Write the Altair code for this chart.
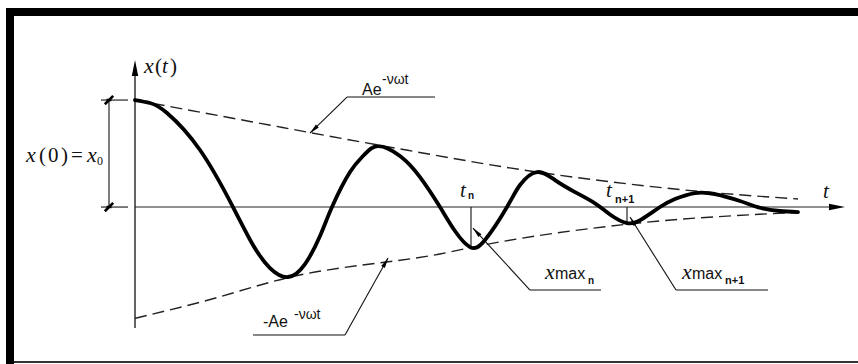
import altair as alt
import pandas as pd

# Damped free vibration x(t), normalised so that x(0) = x0 = 1
t_curve = [0.00, 0.15, 0.32, 0.65, 0.98, 1.18, 1.35, 1.53, 1.70, 1.85, 1.97, 2.15, 2.29,
           2.43, 2.65, 2.85, 3.05, 3.20, 3.35, 3.50, 3.72, 3.85, 4.02, 4.20, 4.40, 4.60,
           4.75, 4.92, 5.07, 5.25, 5.40, 5.60, 5.80, 6.05, 6.26, 6.45, 6.63]
x_curve = [1.000, 0.972, 0.879, 0.533, 0.000, -0.355, -0.570, -0.654, -0.533, -0.271, 0.000,
           0.327, 0.486, 0.570, 0.477, 0.280, 0.000, -0.224, -0.374, -0.308, 0.000, 0.206,
           0.327, 0.252, 0.140, 0.035, -0.070, -0.150, -0.112, 0.000, 0.075, 0.131, 0.121,
           0.056, -0.009, -0.037, -0.047]

# Envelopes  +A e^(-nu w t)  and  -A e^(-nu w t)
t_env_up = [0.00, 1.15, 2.43, 4.00, 5.60, 6.63]
x_env_up = [1.00, 0.80, 0.58, 0.33, 0.15, 0.075]
t_env_lo = [0.00, 0.65, 1.53, 3.15, 3.35, 4.93, 6.63]
x_env_lo = [-1.04, -0.89, -0.66, -0.42, -0.38, -0.16, -0.05]

# Coordinate window of the drawing
T_DOMAIN = [-1.35, 7.23]
X_DOMAIN = [-1.467, 1.935]
xs = alt.Scale(domain=T_DOMAIN, nice=False, zero=False)
ys = alt.Scale(domain=X_DOMAIN, nice=False, zero=False)

SERIF = "Liberation Serif"
SANS = "Liberation Sans"


def enc(chart, t="t", x="x"):
    return chart.encode(
        x=alt.X(f"{t}:Q", scale=xs, axis=None),
        y=alt.Y(f"{x}:Q", scale=ys, axis=None),
    )


curve = enc(alt.Chart(pd.DataFrame({"t": t_curve, "x": x_curve})).mark_line(
    color="black", strokeWidth=3.8, interpolate="natural", strokeCap="round", strokeJoin="round"))

env_df = pd.concat([
    pd.DataFrame({"t": t_env_up, "x": x_env_up, "s": "up"}),
    pd.DataFrame({"t": t_env_lo, "x": x_env_lo, "s": "lo"}),
])
envelopes = enc(alt.Chart(env_df).mark_line(
    color="#222", strokeWidth=1.4, strokeDash=[12, 6], interpolate="monotone")).encode(
    detail="s:N")

# Line segments: dimension lines and leaders
seg_thin = pd.DataFrame([
    (2.12, 1.028, 3.00, 1.028), (2.12, 1.028, 1.75, 0.69),
    (1.18, -1.196, 2.10, -1.196), (2.10, -1.196, 2.53, -0.477),
    (3.38, -0.196, 3.95, -0.776), (3.95, -0.776, 4.66, -0.776),
    (4.95, -0.093, 5.41, -0.776), (5.41, -0.776, 6.33, -0.776),
    (3.36, 0.0, 3.36, -0.374), (4.92, 0.0, 4.92, -0.15),
    (-0.26, 1.0, -0.26, 0.0),
    (-0.34, 1.0, -0.07, 1.0), (-0.34, 0.0, -0.07, 0.0),
], columns=["t1", "x1", "t2", "x2"])
thin = alt.Chart(seg_thin).mark_rule(color="#111", strokeWidth=1.1).encode(
    x=alt.X("t1:Q", scale=xs, axis=None), y=alt.Y("x1:Q", scale=ys, axis=None),
    x2="t2:Q", y2="x2:Q")

# Coordinate axes
seg_axes = pd.DataFrame([
    (0.0, -1.13, 0.0, 1.32, 1.4),
    (0.0, 0.0, 6.95, 0.0, 1.1),
], columns=["t1", "x1", "t2", "x2", "w"])
axes = alt.Chart(seg_axes).mark_rule(color="#222").encode(
    x=alt.X("t1:Q", scale=xs, axis=None), y=alt.Y("x1:Q", scale=ys, axis=None),
    x2="t2:Q", y2="x2:Q", strokeWidth=alt.StrokeWidth("w:Q", scale=None))

# Arrowheads
heads = pd.DataFrame([
    (0.0, 1.299, 0.0, 256),
    (7.02, 0.0, 90.0, 256),
    (1.786, 0.724, 225.8, 110),
    (2.506, -0.518, 29.2, 110),
    (3.414, -0.231, 317.4, 110),
    (4.977, -0.133, 327.8, 80),
], columns=["t", "x", "a", "s"])
arrowheads = enc(alt.Chart(heads).mark_point(
    shape="M0,-1L0.4,1L-0.4,1Z", filled=True, color="black", opacity=1)).encode(
    angle=alt.Angle("a:Q", scale=None), size=alt.Size("s:Q", scale=None))

ticks = enc(alt.Chart(pd.DataFrame({"t": [-0.26, -0.26], "x": [1.0, 0.0]})).mark_point(
    shape="M-1,1L1,-1M-0.6,0L0.6,0", filled=False, color="black", strokeWidth=2.6,
    size=70, opacity=1))

# Frame
frame_df = pd.DataFrame([
    (-1.29, 1.785, 7.23, 1.860, "#000"),
    (-1.29, -1.467, -1.21, 1.860, "#000"),
    (-1.21, -1.458, 7.23, -1.440, "#333"),
], columns=["t1", "x1", "t2", "x2", "c"])
frame = alt.Chart(frame_df).mark_rect().encode(
    x=alt.X("t1:Q", scale=xs, axis=None), y=alt.Y("x1:Q", scale=ys, axis=None),
    x2="t2:Q", y2="x2:Q", color=alt.Color("c:N", scale=None))

# Labels
math_italic = pd.DataFrame([
    ("x", 0.09, 1.252, 22), ("t", 0.27, 1.252, 21),
    ("x", -1.09, 0.421, 22),
    ("x", -0.48, 0.421, 22),
    ("t", 6.88, 0.084, 21),
    ("t", 3.25, 0.093, 21),
    ("t", 4.71, 0.093, 21),
    ("x", 4.10, -0.673, 22),
    ("x", 5.47, -0.673, 22),
], columns=["label", "t", "x", "fs"])
math_upright = pd.DataFrame([
    ("(", 0.20, 1.252, 21), (")", 0.35, 1.252, 21),
    ("(", -0.96, 0.421, 21), ("0", -0.87, 0.421, 21), (")", -0.74, 0.421, 21),
    ("=", -0.64, 0.421, 21),
    ("0", -0.38, 0.393, 12),
], columns=["label", "t", "x", "fs"])
sans = pd.DataFrame([
    ("Ae", 2.27, 1.047, 16),
    ("-νωt", 2.47, 1.150, 14),
    ("-Ae", 1.28, -1.121, 16),
    ("-νωt", 1.59, -1.047, 14),
    ("max", 4.20, -0.673, 16),
    ("max", 5.57, -0.673, 16),
], columns=["label", "t", "x", "fs"])
subs = pd.DataFrame([
    ("n", 4.53, -0.720, 10),
    ("n+1", 5.90, -0.720, 11),
    ("n", 3.33, 0.075, 10),
    ("n+1", 4.80, 0.037, 11),
], columns=["label", "t", "x", "fs"])


def text_layer(df, **kw):
    return enc(alt.Chart(df).mark_text(align="left", baseline="alphabetic", color="#111", **kw)).encode(
        text="label:N", size=alt.Size("fs:Q", scale=None))


labels = [
    text_layer(math_italic, font=SERIF, fontStyle="italic"),
    text_layer(math_upright, font=SERIF),
    text_layer(sans, font=SANS),
    text_layer(subs, font=SANS, fontWeight="bold"),
]

chart = alt.layer(frame, envelopes, axes, thin, ticks, arrowheads, curve, *labels).properties(
    width=858, height=364, padding=0, autosize=alt.AutoSizeParams(type="none"),
    background="white",
).configure_view(stroke=None)

chart.save("out.html", embed_options={"renderer": "svg", "actions": False})
